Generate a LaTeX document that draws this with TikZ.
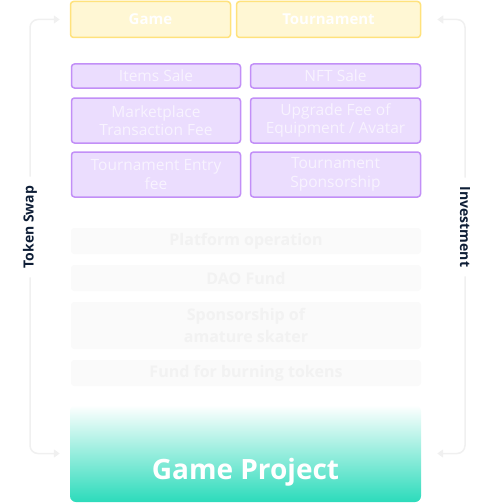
\documentclass[tikz,border=0pt]{standalone}
\usepackage{fontspec}
\setmainfont{Open Sans}
\usetikzlibrary{arrows.meta}
\definecolor{yfill}{HTML}{FFF7D4}
\definecolor{yline}{HTML}{FFE27C}
\definecolor{pfill}{HTML}{EBDDFE}
\definecolor{pline}{HTML}{C28FF7}
\definecolor{ptext}{HTML}{F8F3FF}
\definecolor{gfill}{HTML}{FAFAFA}
\definecolor{gtext}{HTML}{F2F2F2}
\definecolor{teal}{HTML}{2CDBBB}
\definecolor{aline}{HTML}{F0F0F0}
\definecolor{navy}{HTML}{0E1E36}
\begin{document}
\begin{tikzpicture}[x=1pt,y=-1pt,
  ybox/.style={draw=yline,fill=yfill,line width=1.5pt,rounded corners=3pt,inner sep=0pt,
    text=white,font=\bfseries\fontsize{15}{18}\selectfont,align=center},
  pbox/.style={draw=pline,fill=pfill,line width=1.5pt,rounded corners=3pt,inner sep=0pt,
    text=ptext,font=\fontsize{15.5}{18.5}\selectfont,align=center,minimum height=45pt},
  gbox/.style={fill=gfill,rounded corners=3pt,inner sep=0pt,minimum width=350pt,
    text=gtext,font=\bfseries\fontsize{16}{22}\selectfont,align=center},
  side/.style={text=navy,font=\bfseries\fontsize{14}{16}\selectfont,inner sep=9pt},
  flow/.style={draw=aline,line width=1.5pt,rounded corners=8pt,-{Triangle[width=8pt,length=6pt]}}]
\useasboundingbox (0,0) rectangle (485,503);
% top row
\node[ybox,minimum width=160pt,minimum height=36pt] (game) at (150.5,19.5) {Game};
\node[ybox,minimum width=184pt,minimum height=36pt] (tour) at (328.5,19.5) {Tournament};
% purple
\node[pbox,minimum width=169pt,minimum height=24pt] (items) at (156,76) {Items Sale};
\node[pbox,minimum width=170pt,minimum height=24pt] (nft) at (335.5,76) {NFT Sale};
\node[pbox,minimum width=169pt] (market) at (156,120.5) {Marketplace\\Transaction Fee};
\node[pbox,minimum width=170pt] (upgrade) at (335.5,120.5) {Upgrade Fee of\\Equipment / Avatar};
\node[pbox,minimum width=169pt] (entry) at (156,174.5) {Tournament Entry\\fee};
\node[pbox,minimum width=170pt] (spons) at (335.5,174.5) {Tournament\\Sponsorship};
% grey
\node[gbox,minimum height=26pt] (plat) at (246,241) {Platform operation};
\node[gbox,minimum height=26pt] (dao) at (246,278) {DAO Fund};
\node[gbox,minimum height=47pt] (amat) at (246,325.5) {Sponsorship of\\amature skater};
\node[gbox,minimum height=26pt] (burn) at (246,373) {Fund for burning tokens};
% game project
\node[top color=white,bottom color=teal,shading angle=0,rounded corners=6pt,
  minimum width=351pt,minimum height=97pt,inner sep=0pt] (gp) at (245.5,453.5) {};
\node[text=white,font=\bfseries\fontsize{28}{32}\selectfont,inner sep=0pt] (gptext) at (245.5,472) {Game Project};
% side labels
\node[side,rotate=90] (swap) at (30,227) {Token Swap};
\node[side,rotate=-90] (inv) at (465,227) {Investment};
% connectors
\draw[flow,shorten >=10pt] (swap.east) |- (game.west);
\draw[flow,shorten >=10pt] (swap.west) |- (gp.west);
\draw[flow,shorten >=16pt] (inv.west) |- (tour.east);
\draw[flow,shorten >=16pt] (inv.east) |- (gp.east);
\end{tikzpicture}
\end{document}
